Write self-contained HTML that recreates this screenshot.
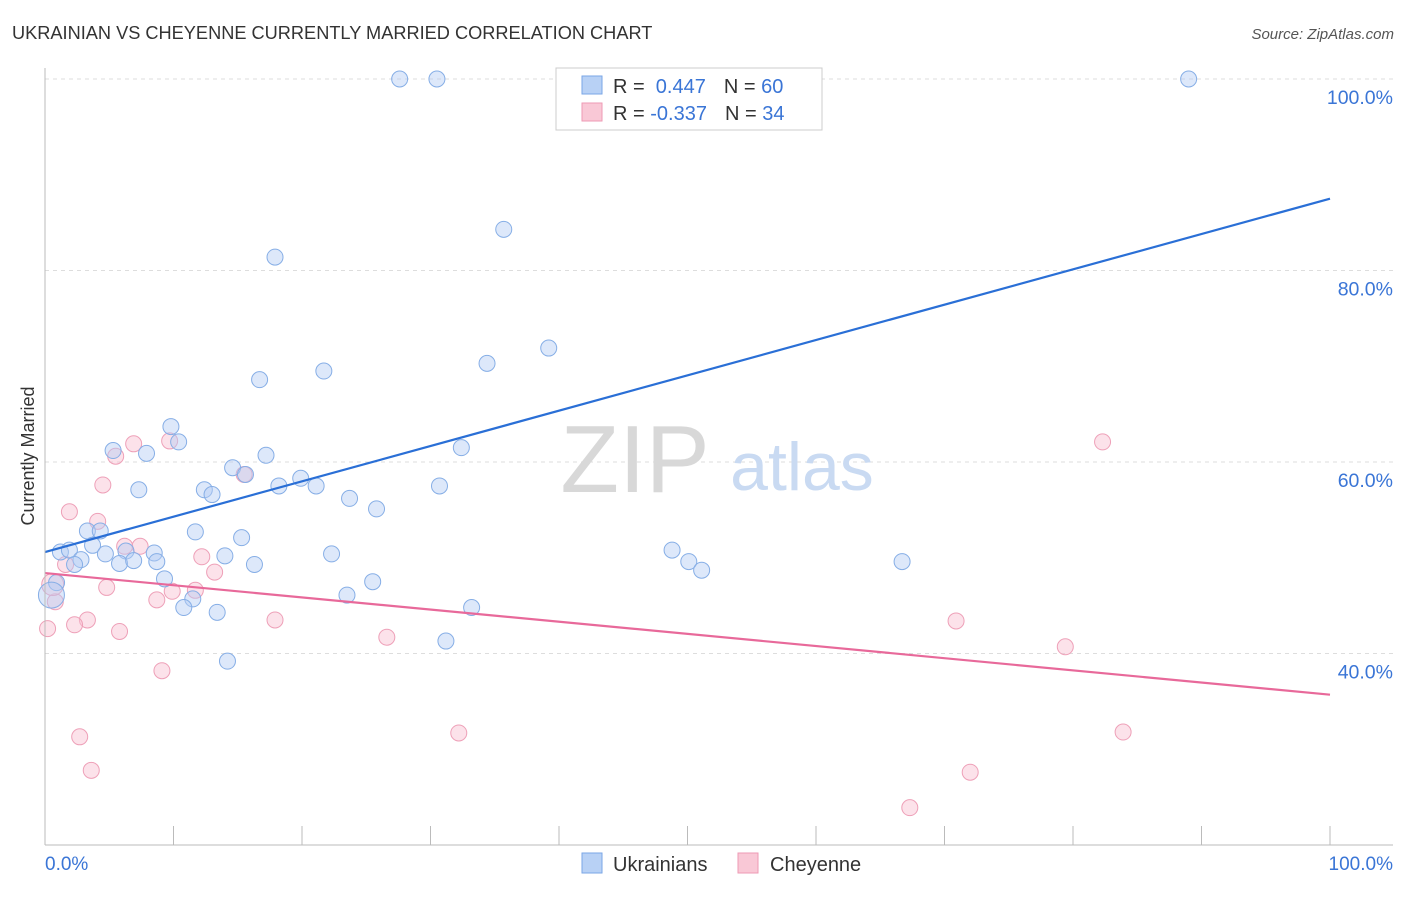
<!DOCTYPE html>
<html><head><meta charset="utf-8"><style>
body{margin:0;background:#fff;font-family:"Liberation Sans",sans-serif}
svg text{font-family:"Liberation Sans",sans-serif}
</style></head><body>
<svg width="1406" height="892" xmlns="http://www.w3.org/2000/svg">
<text x="12" y="39" font-size="18.2" fill="#333">UKRAINIAN VS CHEYENNE CURRENTLY MARRIED CORRELATION CHART</text>
<text x="1394" y="39" font-size="15" fill="#555" text-anchor="end" font-style="italic">Source: ZipAtlas.com</text>
<g id="grid"></g>
<text x="635" y="492" font-size="96" fill="#d8d8d8" font-family="Liberation Serif" text-anchor="middle">ZIP</text>
<text x="802" y="490" font-size="68" fill="#c9daf2" text-anchor="middle">atlas</text>
<g id="pts"></g>
<g id="lines"></g>
<line x1="45" y1="68" x2="45" y2="845" stroke="#bbb"/>
<line x1="45" y1="845" x2="1393" y2="845" stroke="#bbb"/>
<text x="45" y="870" font-size="19" fill="#3a75d6">0.0%</text>
<text x="1393" y="870" font-size="19" fill="#3a75d6" text-anchor="end">100.0%</text>
<text transform="translate(34,456) rotate(-90)" font-size="18" fill="#333" text-anchor="middle">Currently Married</text>
<g>
<rect x="556" y="68" width="266" height="62" fill="#fff" stroke="#ccc"/>
<rect x="582" y="76" width="20" height="18" fill="#b8d1f5" stroke="#7aa6e6"/>
<rect x="582" y="103" width="20" height="18" fill="#f9c8d6" stroke="#ee9ab4"/>
<text x="613" y="93" font-size="20" fill="#333">R = <tspan fill="#3a75d6">&#160;0.447</tspan><tspan dx="18" fill="#333">N = </tspan><tspan fill="#3a75d6">60</tspan></text>
<text x="613" y="120" font-size="20" fill="#333">R = <tspan fill="#3a75d6">-0.337</tspan><tspan dx="18" fill="#333">N = </tspan><tspan fill="#3a75d6">34</tspan></text>
</g>
<g>
<rect x="582" y="853" width="20" height="20" fill="#b8d1f5" stroke="#7aa6e6"/>
<text x="613" y="871" font-size="20" fill="#333">Ukrainians</text>
<rect x="738" y="853" width="20" height="20" fill="#f9c8d6" stroke="#ee9ab4"/>
<text x="770" y="871" font-size="20" fill="#333">Cheyenne</text>
</g>
</svg>
<script>
const yTicks=[40,60,80,100];
const xTicks=[0,10,20,30,40,50,60,70,80,90,100];
const blueX=[27.6,30.5,89,35.7,17.9,39.2,34.4,21.7,16.7,9.8,10.4,5.3,7.9,32.4,17.2,14.6,15.6,19.9,18.2,21.1,7.3,12.4,13,30.7,23.7,25.8,3.3,4.3,11.7,15.3,1.2,1.9,3.7,4.7,6.3,8.5,22.3,14,2.8,2.3,5.8,6.9,8.7,16.3,48.8,50.1,51.1,66.7,9.3,25.5,0.9,0.5,23.5,11.5,10.8,33.2,13.4,31.2,14.2];
const blueY=[100,100,100,84.3,81.4,71.9,70.3,69.5,68.6,63.7,62.1,61.2,60.9,61.5,60.7,59.4,58.7,58.3,57.5,57.5,57.1,57.1,56.6,57.5,56.2,55.1,52.8,52.8,52.7,52.1,50.6,50.8,51.3,50.4,50.7,50.5,50.4,50.2,49.8,49.3,49.4,49.7,49.6,49.3,50.8,49.6,48.7,49.6,47.8,47.5,47.4,46.1,46.1,45.7,44.8,44.8,44.3,41.3,39.2];
const pinkX=[1.9,4.5,6.9,9.7,5.5,15.5,4.1,6.2,7.4,1.6,12.2,13.2,4.8,11.7,9.9,8.7,0.8,0.2,3.3,2.3,5.8,17.9,26.6,9.1,2.7,3.6,32.2,82.3,70.9,79.4,83.9,72,67.3,0.6];
const pinkY=[54.8,57.6,61.9,62.2,60.6,58.7,53.8,51.2,51.2,49.3,50.1,48.5,46.9,46.6,46.5,45.6,45.4,42.6,43.5,43,42.3,43.5,41.7,38.2,31.3,27.8,31.7,62.1,43.4,40.7,31.8,27.6,23.9,47.2];
const X=v=>45+v*12.85, Y=v=>79+(100-v)*9.575;
const ns="http://www.w3.org/2000/svg";
function mk(t,a,p){const e=document.createElementNS(ns,t);for(const k in a)e.setAttribute(k,a[k]);p.appendChild(e);return e;}
const g=document.getElementById('grid');
yTicks.forEach(v=>{
 const l=mk('line',{x1:45,x2:1393,y1:Y(v),y2:Y(v),stroke:'#ddd','stroke-dasharray':'4,4'},g);
 
 
 const t=mk('text',{x:1393,y:Y(v)+25,'font-size':19.5,fill:'#3a75d6','text-anchor':'end'},g);
 t.textContent=v.toFixed(1)+'%';
 
 
});
xTicks.forEach(v=>{
 const l=mk('line',{x1:X(v),x2:X(v),y1:826,y2:845,stroke:'#bbb'},g);
 
 
});
const p=document.getElementById('pts');
pinkX.forEach((x,i)=>{
 const c=mk('circle',{cx:X(x),cy:Y(pinkY[i]),r:i==33?11:8,fill:'rgba(248,190,208,0.45)',stroke:'#eea0b8','stroke-width':1},p);
 
 
});
blueX.forEach((x,i)=>{
 const c=mk('circle',{cx:X(x),cy:Y(blueY[i]),r:i==51?13:8,fill:'rgba(180,205,245,0.45)',stroke:'#86aee6','stroke-width':1},p);
 
 
});
const L=document.getElementById('lines');
const bl=mk('line',{x1:X(0),y1:Y(50.6),x2:X(100),y2:Y(87.5),stroke:'#2a6fd6','stroke-width':2.2},L);


const pl=mk('line',{x1:X(0),y1:Y(48.4),x2:X(100),y2:Y(35.7),stroke:'#e8699a','stroke-width':2.2},L);


</script>
</body></html>
